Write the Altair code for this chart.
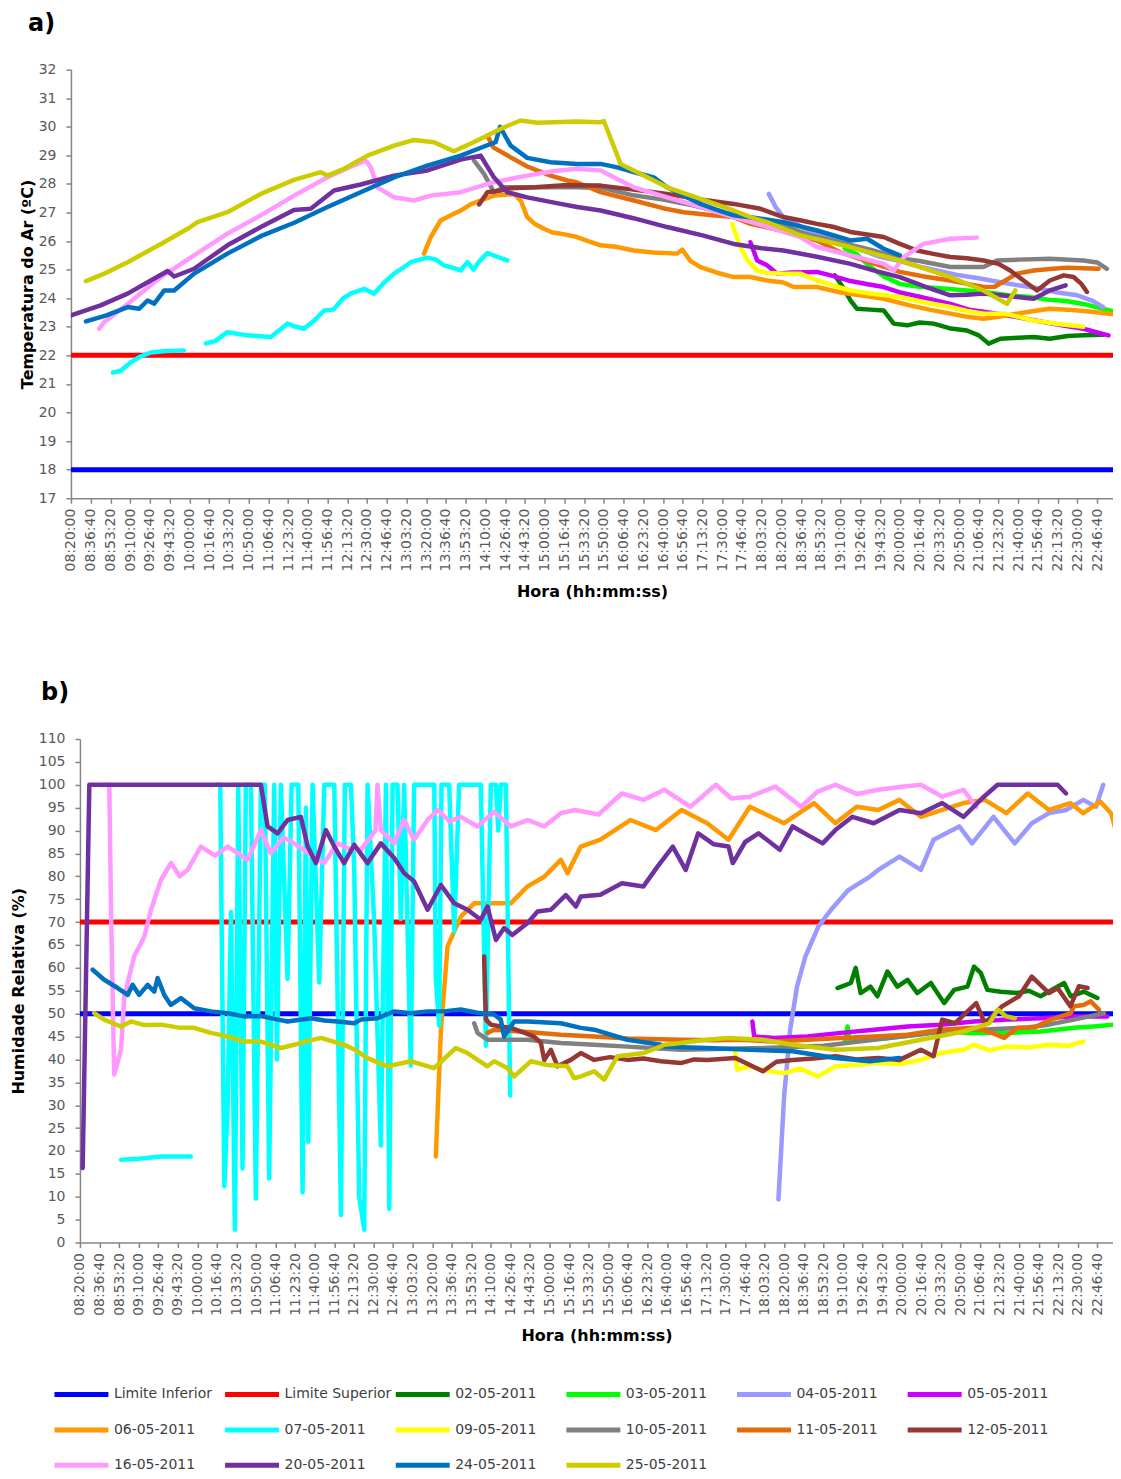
import altair as alt
import pandas as pd

# ---------------------------------------------------------------- x axis
# time is stored in kiloseconds after 08:20:00 (1 unit = 1000 s = 16 min 40 s)
START_SEC = 8 * 3600 + 20 * 60
STEP_SEC = 1000
N_TICKS = 53                 # 08:20:00 ... 22:46:40
X_END_KS = 52.8
TICK_SECONDS = [START_SEC + k * STEP_SEC for k in range(N_TICKS)]

NAMES = ["Limite Inferior", "Limite Superior", "02-05-2011", "03-05-2011",
         "04-05-2011", "05-05-2011", "06-05-2011", "07-05-2011", "09-05-2011",
         "10-05-2011", "11-05-2011", "12-05-2011", "16-05-2011", "20-05-2011",
         "24-05-2011", "25-05-2011"]
COLORS = ["#0000FF", "#FF0000", "#008000", "#00FF00", "#9999FF", "#CC00FF",
          "#FF9900", "#00FFFF", "#FFFF00", "#808080", "#E46C0A", "#953735",
          "#FF99FF", "#7030A0", "#0070C0", "#CCCC00"]

TEMP_LIMITS = [18, 22]
RH_LIMITS = [50, 70]
TEMP_TICKS = list(range(17, 33))
RH_TICKS = list(range(0, 111, 5))

# ---------------------------------------------------------------- a) temperature (ks, degC)
temp_0205 = [(38.7, 24.8), (39.1, 24.4), (39.5, 23.92), (39.83, 23.63), (40.5, 23.6), (41.18, 23.57),
             (41.69, 23.11), (42.37, 23.05), (43.0, 23.15), (43.71, 23.11), (44.5, 22.95), (45.4, 22.87),
             (46.0, 22.7), (46.5, 22.41), (47.09, 22.58), (48.0, 22.62), (48.78, 22.64), (49.6, 22.58),
             (50.5, 22.68), (51.3, 22.7), (52.32, 22.72)]
temp_0305 = [(39.2, 25.75), (39.8, 25.55), (40.5, 25.1), (41.2, 24.75), (42.0, 24.5), (43.0, 24.4),
             (44.0, 24.35), (45.4, 24.27), (46.5, 24.2), (47.5, 24.1), (48.5, 24.05), (49.5, 23.95),
             (50.4, 23.9), (51.3, 23.8), (52.2, 23.65), (53.0, 23.51)]
temp_0405 = [(35.36, 27.65), (35.7, 27.2), (36.1, 26.84), (37.0, 26.5), (38.0, 26.2), (39.0, 25.95),
             (40.0, 25.7), (41.0, 25.45), (42.0, 25.3), (43.0, 25.1), (44.0, 24.95), (45.0, 24.8),
             (46.0, 24.7), (47.1, 24.56), (48.0, 24.45), (49.0, 24.35), (50.0, 24.2), (51.0, 24.1),
             (51.8, 23.9), (52.3, 23.69)]
temp_0505 = [(34.43, 25.96), (34.77, 25.32), (35.27, 25.15), (35.78, 24.86), (36.5, 24.9), (37.8, 24.92),
             (38.5, 24.8), (39.5, 24.6), (40.3, 24.5), (41.18, 24.39), (42.0, 24.2), (43.0, 24.05),
             (44.56, 23.8), (45.5, 23.6), (46.5, 23.5), (47.93, 23.34), (49.0, 23.2), (50.2, 23.05),
             (51.3, 22.93), (52.0, 22.8), (52.57, 22.7)]
temp_0605 = [(17.89, 25.56), (18.23, 26.14), (18.73, 26.72), (19.25, 26.9), (19.75, 27.07), (20.3, 27.3),
             (20.76, 27.42), (21.43, 27.59), (22.0, 27.62), (22.45, 27.65), (22.8, 27.4), (23.12, 26.84),
             (23.5, 26.6), (23.97, 26.43), (24.4, 26.3), (24.81, 26.26), (25.65, 26.14), (26.2, 26.0),
             (26.84, 25.85), (27.6, 25.8), (28.52, 25.67), (29.5, 25.6), (30.72, 25.56), (30.97, 25.7),
             (31.4, 25.3), (31.9, 25.09), (32.7, 24.9), (33.58, 24.74), (34.43, 24.74), (35.27, 24.62),
             (36.1, 24.55), (36.62, 24.39), (37.8, 24.39), (39.0, 24.2), (40.0, 24.1), (41.18, 23.98),
             (42.5, 23.75), (43.5, 23.6), (44.56, 23.46), (45.4, 23.35), (46.24, 23.28), (47.0, 23.35),
             (47.93, 23.46), (48.8, 23.55), (49.6, 23.63), (50.5, 23.6), (51.3, 23.55), (52.3, 23.48),
             (53.2, 23.4)]
temp_0705_a = [(2.13, 21.4), (2.5, 21.45), (3.04, 21.76), (3.5, 21.95), (4.05, 22.1), (4.8, 22.15),
               (5.72, 22.17)]
temp_0705_b = [(6.84, 22.42), (7.3, 22.5), (7.93, 22.81), (8.94, 22.7), (10.13, 22.64), (10.97, 23.11),
               (11.4, 23.0), (11.81, 22.93), (12.3, 23.2), (12.83, 23.57), (13.3, 23.6), (13.8, 24.0),
               (14.18, 24.16), (14.85, 24.33), (15.36, 24.16), (15.8, 24.5), (16.37, 24.86), (16.8, 25.05),
               (17.22, 25.26), (18.06, 25.42), (18.5, 25.35), (18.9, 25.15), (19.4, 25.05), (19.75, 24.97),
               (20.09, 25.26), (20.4, 25.0), (20.7, 25.3), (21.1, 25.58), (21.6, 25.45), (22.11, 25.32)]
temp_0905 = [(33.5, 26.6), (33.92, 25.79), (34.3, 25.3), (34.77, 24.97), (35.3, 24.88), (36.1, 24.86),
             (36.96, 24.86), (37.8, 24.62), (38.6, 24.45), (39.5, 24.27), (40.7, 24.15), (42.0, 24.04),
             (43.3, 23.85), (44.56, 23.69), (45.4, 23.55), (46.24, 23.46), (47.3, 23.46), (48.0, 23.35),
             (48.78, 23.22), (50.0, 23.1), (51.3, 23.0)]
temp_1005 = [(20.42, 28.82), (20.93, 28.35), (21.43, 27.71), (21.94, 27.88), (23.0, 27.88), (24.5, 27.88),
             (25.65, 27.88), (27.0, 27.85), (28.5, 27.6), (30.0, 27.45), (31.5, 27.25), (33.0, 27.0),
             (34.5, 26.8), (36.0, 26.55), (37.5, 26.2), (39.0, 25.95), (40.5, 25.7), (42.0, 25.4),
             (43.0, 25.3), (44.56, 25.09), (46.24, 25.09), (46.92, 25.32), (48.0, 25.35), (49.6, 25.38),
             (51.3, 25.32), (52.0, 25.25), (52.49, 25.03)]
temp_1105 = [(21.1, 29.69), (21.4, 29.28), (22.28, 28.93), (23.12, 28.61), (24.3, 28.29), (25.15, 28.12),
             (25.65, 28.05), (26.84, 27.71), (28.52, 27.42), (30.0, 27.15), (31.05, 27.01), (32.5, 26.9),
             (33.58, 26.84), (34.43, 26.6), (35.5, 26.45), (36.96, 26.2), (37.8, 26.02), (39.0, 25.6),
             (40.5, 25.25), (42.0, 24.92), (43.3, 24.75), (44.56, 24.62), (45.4, 24.5), (46.24, 24.39),
             (46.8, 24.4), (47.93, 24.86), (48.78, 24.97), (49.6, 25.02), (50.46, 25.07), (51.3, 25.05),
             (52.07, 25.03)]
temp_1205 = [(20.68, 27.28), (21.1, 27.71), (21.77, 27.77), (22.28, 27.85), (23.5, 27.88), (25.0, 27.95),
             (26.84, 27.94), (28.5, 27.8), (30.21, 27.65), (32.0, 27.45), (33.58, 27.3), (34.94, 27.13),
             (36.1, 26.84), (37.0, 26.72), (37.8, 26.6), (38.6, 26.5), (39.5, 26.32), (41.18, 26.14),
             (42.0, 25.9), (42.87, 25.67), (43.7, 25.55), (44.56, 25.44), (45.4, 25.4), (46.24, 25.32),
             (47.0, 25.2), (47.59, 24.97), (48.3, 24.6), (48.95, 24.27), (49.6, 24.62), (50.3, 24.8),
             (50.8, 24.74), (51.2, 24.5), (51.48, 24.22)]
temp_1605 = [(1.43, 22.93), (1.69, 23.16), (2.87, 23.8), (4.56, 24.74), (6.24, 25.5), (7.93, 26.26),
             (9.62, 26.9), (11.31, 27.59), (13.0, 28.23), (14.0, 28.55), (14.94, 28.82), (15.19, 28.58),
             (15.53, 27.88), (16.37, 27.53), (17.38, 27.42), (18.23, 27.59), (19.75, 27.71), (21.43, 28.06),
             (23.12, 28.29), (24.5, 28.45), (25.65, 28.53), (26.84, 28.47), (27.6, 28.2), (28.52, 27.88),
             (30.21, 27.53), (31.9, 27.2), (33.58, 26.84), (35.3, 26.5), (36.96, 26.14), (37.8, 25.79),
             (39.5, 25.5), (41.18, 25.2), (41.7, 24.97), (42.19, 25.44), (43.2, 25.9), (44.56, 26.08),
             (45.9, 26.12)]
temp_2005 = [(0.0, 23.4), (1.5, 23.75), (2.87, 24.16), (4.0, 24.6), (4.9, 24.95), (5.23, 24.76),
             (6.24, 25.03), (7.1, 25.45), (7.93, 25.85), (9.62, 26.49), (11.3, 27.09), (12.15, 27.13),
             (13.33, 27.77), (14.68, 27.98), (16.37, 28.29), (18.06, 28.47), (19.75, 28.85), (20.76, 28.99),
             (21.43, 28.23), (22.11, 27.71), (23.12, 27.53), (24.81, 27.3), (25.65, 27.19), (26.84, 27.07),
             (28.5, 26.8), (30.21, 26.49), (32.0, 26.2), (33.58, 25.9), (35.0, 25.75), (36.1, 25.67),
             (37.8, 25.45), (39.5, 25.2), (40.8, 24.95), (42.0, 24.74), (43.3, 24.4), (44.56, 24.1),
             (45.4, 24.12), (46.24, 24.16), (47.1, 24.1), (47.93, 24.04), (48.78, 23.98), (49.6, 24.27),
             (50.4, 24.45)]
temp_2405 = [(0.76, 23.19), (1.8, 23.4), (2.87, 23.69), (3.46, 23.63), (3.88, 23.92), (4.22, 23.81),
             (4.73, 24.27), (5.23, 24.27), (6.24, 24.86), (7.93, 25.56), (9.62, 26.17), (11.31, 26.64),
             (13.0, 27.19), (14.68, 27.71), (16.37, 28.23), (18.06, 28.64), (19.75, 28.99), (20.93, 29.31),
             (21.52, 29.46), (21.74, 30.0), (22.28, 29.34), (23.12, 28.91), (24.3, 28.76), (25.65, 28.7),
             (26.84, 28.7), (27.68, 28.58), (28.6, 28.4), (29.53, 28.23), (30.21, 27.88), (31.0, 27.6),
             (31.9, 27.3), (32.7, 27.1), (33.58, 26.9), (34.8, 26.8), (36.1, 26.66), (37.8, 26.37),
             (39.5, 26.02), (40.34, 26.08), (41.18, 25.73), (42.0, 25.5)]
temp_2505 = [(0.76, 24.6), (1.69, 24.86), (2.87, 25.26), (4.56, 25.9), (5.91, 26.43), (6.41, 26.66),
             (7.93, 27.01), (9.62, 27.65), (11.3, 28.14), (12.66, 28.41), (13.0, 28.29), (13.84, 28.53),
             (15.02, 28.99), (16.37, 29.34), (17.38, 29.54), (18.4, 29.46), (19.4, 29.14), (20.4, 29.46),
             (21.94, 29.98), (22.78, 30.22), (23.63, 30.14), (25.65, 30.18), (26.84, 30.16), (27.0, 30.2),
             (27.85, 28.7), (28.52, 28.47), (30.21, 27.88), (31.9, 27.48), (33.58, 27.07), (34.43, 26.84),
             (35.27, 26.66), (36.96, 26.2), (38.2, 26.0), (39.5, 25.79), (42.0, 25.32), (44.56, 24.74),
             (46.24, 24.27), (47.43, 23.8), (47.85, 24.27)]

# ---------------------------------------------------------------- b) relative humidity (ks, %)
rh_0205 = [(38.72, 55.6), (39.4, 56.7), (39.65, 60.0), (39.9, 54.5), (40.4, 55.9), (40.76, 53.8),
           (41.27, 59.2), (41.78, 55.9), (42.3, 57.4), (42.8, 54.5), (43.49, 56.7), (44.17, 52.3),
           (44.68, 55.2), (45.36, 55.9), (45.7, 60.3), (46.04, 58.9), (46.38, 55.2), (47.06, 54.8),
           (47.91, 54.5), (48.5, 55.0), (49.1, 53.8), (50.3, 56.7), (50.64, 53.8), (51.32, 54.8),
           (52.0, 53.4)]
rh_0305 = [(39.1, 44.0), (39.23, 47.2), (39.35, 44.0), (41.0, 44.5), (43.0, 45.5), (43.66, 46.1),
           (45.7, 45.8), (47.4, 45.8), (49.1, 46.1), (50.8, 46.9), (51.8, 47.2), (52.85, 47.6)]
rh_0405 = [(35.7, 9.4), (35.99, 31.9), (36.3, 46.5), (36.65, 55.9), (37.08, 62.5), (37.74, 69.0),
           (38.39, 72.7), (39.27, 77.0), (40.36, 79.9), (40.8, 81.4), (41.89, 84.3), (42.98, 81.4),
           (43.63, 88.0), (44.94, 90.9), (45.6, 87.2), (46.69, 93.0), (47.78, 87.2), (48.65, 91.6),
           (49.53, 93.8), (50.4, 94.5), (51.28, 96.7), (51.93, 95.2), (52.3, 100.0)]
rh_0505 = [(34.37, 48.3), (34.46, 45.0), (35.48, 44.7), (37.18, 45.0), (38.89, 45.8), (40.59, 46.5),
           (42.29, 47.2), (43.99, 47.6), (45.7, 48.3), (47.4, 48.7), (49.1, 49.0), (50.8, 49.4),
           (52.51, 49.4)]
rh_0605 = [(18.19, 18.8), (18.45, 46.5), (18.79, 64.7), (19.47, 71.2), (20.15, 74.1), (21.17, 74.1),
           (22.02, 74.1), (22.88, 77.8), (23.73, 79.9), (24.58, 83.6), (24.92, 80.7), (25.6, 86.5),
           (26.6, 88.0), (28.13, 92.3), (29.44, 90.1), (30.75, 94.5), (32.06, 91.6), (33.15, 88.0),
           (34.24, 95.2), (35.99, 91.6), (37.52, 96.0), (38.61, 91.6), (39.7, 95.2), (40.8, 94.5),
           (41.89, 96.7), (42.98, 93.0), (44.07, 94.5), (45.16, 96.0), (46.25, 96.7), (47.35, 93.8),
           (48.44, 98.1), (49.53, 94.5), (50.62, 96.0), (51.28, 93.8), (52.16, 96.3), (52.7, 93.8),
           (53.03, 88.7)]
rh_0705_a = [(2.1, 18.1), (3.0, 18.3), (4.14, 18.8), (5.67, 18.8)]
rh_0705_b = [(7.03, 100), (7.17, 100), (7.38, 12.3), (7.55, 30), (7.72, 72.2), (7.92, 2.8), (8.09, 100),
             (8.31, 16.2), (8.48, 100), (8.74, 100), (8.99, 9.6), (9.25, 100), (9.45, 100), (9.67, 14),
             (9.93, 100), (10.07, 40), (10.27, 100), (10.61, 57.6), (10.82, 100), (11.16, 100),
             (11.38, 11.0), (11.55, 95), (11.67, 22), (11.89, 100), (12.23, 56.8), (12.49, 100),
             (12.74, 100), (13.0, 100), (13.34, 6.0), (13.54, 100), (13.85, 100), (14.02, 81.6),
             (14.27, 10), (14.53, 2.8), (14.7, 100), (15.04, 70), (15.38, 21.2), (15.64, 100), (15.81, 7.4),
             (15.98, 100), (16.23, 100), (16.4, 70.7), (16.57, 100), (16.91, 38.7), (17.08, 100),
             (18.11, 100), (18.19, 57.6), (18.36, 47.4), (18.48, 100), (18.87, 100), (19.13, 68),
             (19.38, 100), (20.49, 100), (20.75, 43), (21.0, 100), (21.26, 100), (21.38, 90), (21.51, 100),
             (21.77, 100), (21.99, 32.1)]
rh_0905 = [(33.48, 42.1), (33.59, 37.8), (34.24, 38.5), (35.1, 37.5), (35.99, 37.0), (36.8, 38.0),
           (37.74, 36.3), (38.61, 38.5), (39.6, 38.8), (40.8, 39.2), (41.9, 39.0), (42.98, 39.9),
           (43.99, 41.4), (45.16, 42.1), (45.7, 43.2), (46.5, 42.0), (47.35, 42.8), (48.5, 42.6),
           (49.53, 43.2), (50.5, 43.0), (51.28, 43.9)]
rh_1005 = [(20.15, 47.9), (20.32, 45.8), (20.83, 44.3), (22.88, 44.3), (24.58, 43.6), (26.28, 43.2),
           (27.98, 42.8), (30.71, 42.1), (32.5, 42.3), (35.0, 42.5), (38.0, 43.0), (41.0, 44.5),
           (43.0, 45.5), (44.85, 46.5), (46.5, 46.6), (48.25, 46.9), (49.5, 47.6), (50.8, 48.7),
           (52.34, 50.1)]
rh_1105 = [(20.83, 45.8), (21.17, 46.5), (22.88, 46.0), (24.58, 45.4), (26.28, 45.0), (27.98, 44.6),
           (30.71, 44.3), (32.5, 44.2), (33.78, 44.3), (35.48, 43.9), (37.2, 44.3), (38.89, 44.7),
           (40.6, 45.0), (42.29, 45.4), (43.99, 46.5), (45.7, 46.9), (46.5, 46.0), (47.23, 44.7),
           (47.91, 46.9), (48.8, 47.0), (49.62, 48.7), (50.64, 50.1), (50.8, 51.6), (51.3, 51.9),
           (51.66, 52.7), (52.08, 50.9)]
rh_1205 = [(20.66, 62.5), (20.75, 48.7), (21.0, 47.6), (21.51, 47.2), (22.02, 46.9), (22.6, 46.0),
           (23.21, 45.0), (23.56, 43.6), (23.73, 39.9), (24.07, 42.1), (24.41, 38.5), (25.09, 39.9),
           (25.6, 41.4), (26.28, 39.9), (27.1, 40.5), (27.98, 39.9), (28.8, 40.2), (29.69, 39.6),
           (30.71, 39.2), (31.4, 40.0), (32.06, 39.9), (33.5, 40.3), (34.9, 37.4), (35.6, 39.5),
           (36.43, 39.9), (37.5, 40.2), (38.61, 40.7), (39.7, 40.0), (40.8, 40.3), (41.89, 39.9),
           (42.98, 42.1), (43.63, 40.7), (44.07, 48.7), (44.72, 47.9), (45.81, 52.3), (46.25, 47.9),
           (47.13, 51.6), (48.0, 53.8), (48.65, 58.1), (49.53, 54.5), (49.97, 55.6), (50.62, 51.6),
           (51.06, 56.0), (51.5, 55.6)]
rh_1605 = [(1.5, 100), (1.6, 70), (1.75, 36.7), (2.1, 42.1), (2.27, 53.8), (2.77, 62.5), (3.29, 66.8),
           (3.63, 72.7), (4.14, 79.2), (4.65, 82.9), (5.1, 80.0), (5.5, 81.4), (6.18, 86.5), (6.9, 84.5),
           (7.55, 86.5), (8.57, 83.6), (9.25, 90.1), (9.76, 85.0), (10.4, 88.5), (10.95, 87.2),
           (11.7, 85.0), (12.48, 82.9), (13.17, 87.2), (13.8, 86.0), (14.36, 85.8), (15.1, 90.0),
           (15.21, 100), (15.38, 90.1), (16.06, 87.2), (16.57, 92.3), (17.08, 88.0), (17.77, 92.3),
           (18.28, 94.5), (18.9, 92.0), (19.47, 93.0), (20.32, 90.9), (21.17, 94.1), (22.02, 90.9),
           (22.88, 92.3), (23.73, 90.9), (24.58, 93.8), (25.3, 94.5), (26.5, 93.5), (27.7, 98.1),
           (28.8, 96.7), (29.88, 98.9), (31.2, 95.2), (32.5, 100), (33.3, 97.0), (34.24, 97.4),
           (35.55, 99.6), (36.86, 95.2), (37.7, 98.5), (38.61, 100), (39.7, 98.0), (40.8, 98.9),
           (41.9, 99.5), (42.98, 100), (44.07, 97.4), (45.16, 98.9), (45.81, 95.2)]
rh_2005 = [(0.14, 16.3), (0.48, 100), (9.25, 100), (9.59, 90.9), (10.1, 89.4), (10.61, 92.3),
           (11.29, 93.0), (11.64, 86.5), (12.06, 82.9), (12.57, 90.1), (13.0, 86.5), (13.5, 82.9),
           (14.02, 86.9), (14.7, 82.9), (15.38, 87.2), (16.06, 84.0), (16.57, 80.7), (17.08, 78.9),
           (17.77, 72.7), (18.45, 78.1), (19.13, 74.1), (19.81, 72.7), (20.49, 70.5), (20.83, 73.4),
           (21.26, 66.1), (21.68, 68.7), (22.1, 67.2), (22.88, 69.8), (23.39, 72.3), (24.07, 72.7),
           (24.83, 75.9), (25.35, 73.4), (25.6, 75.6), (26.6, 76.0), (27.7, 78.5), (28.8, 77.8),
           (29.5, 82.0), (30.3, 86.5), (30.96, 81.4), (31.6, 89.4), (32.4, 87.0), (33.15, 86.5),
           (33.37, 82.9), (34.0, 87.5), (34.68, 89.4), (35.77, 85.8), (36.43, 90.9), (37.2, 89.0),
           (37.96, 87.2), (38.61, 90.1), (39.48, 93.0), (40.57, 91.6), (41.89, 94.5), (42.98, 93.8),
           (44.07, 96.0), (45.16, 93.0), (46.2, 97.4), (46.9, 100), (49.97, 100), (50.4, 98.1)]
rh_2405 = [(0.65, 59.6), (1.24, 57.4), (1.93, 55.6), (2.44, 54.1), (2.69, 56.3), (3.03, 54.1),
           (3.46, 56.3), (3.8, 54.8), (3.97, 57.8), (4.31, 54.1), (4.65, 51.9), (5.16, 53.4),
           (5.84, 51.2), (6.69, 50.5), (7.55, 50.1), (8.4, 49.4), (9.25, 49.5), (10.0, 48.8),
           (10.61, 48.3), (11.8, 49.0), (12.5, 48.5), (13.17, 48.3), (14.02, 47.9), (14.36, 48.7),
           (15.21, 49.0), (16.06, 50.5), (16.91, 50.1), (17.77, 50.5), (18.6, 50.5), (19.47, 50.9),
           (20.3, 50.2), (21.17, 49.8), (21.51, 48.7), (21.68, 45.0), (22.19, 48.3), (22.88, 48.3),
           (24.58, 47.9), (25.6, 46.9), (26.28, 46.5), (27.98, 44.3), (29.69, 43.2), (29.88, 42.8),
           (32.06, 42.5), (34.24, 42.1), (36.43, 41.8), (38.61, 40.3), (40.36, 39.6), (41.89, 40.3)]
rh_2505 = [(0.73, 50.1), (1.24, 48.7), (2.1, 47.2), (2.61, 48.3), (3.3, 47.5), (4.14, 47.6), (5.0, 47.0),
           (5.84, 46.9), (6.69, 45.8), (7.55, 45.0), (8.4, 43.9), (9.25, 43.9), (10.27, 42.5),
           (10.95, 43.2), (11.6, 44.0), (12.32, 44.7), (13.5, 43.2), (14.1, 42.0), (14.7, 40.3),
           (15.72, 38.5), (16.91, 39.6), (18.1, 38.1), (19.21, 42.5), (19.81, 41.4), (20.83, 38.5),
           (21.17, 39.6), (21.86, 38.1), (22.19, 36.3), (23.05, 39.6), (23.9, 38.8), (24.92, 38.5),
           (25.26, 35.9), (25.6, 36.3), (26.28, 37.4), (26.79, 35.6), (27.48, 40.7), (28.84, 41.4),
           (29.88, 43.2), (30.71, 43.6), (32.0, 44.3), (33.15, 44.7), (34.9, 44.3), (36.43, 43.2),
           (38.61, 42.1), (40.8, 42.5), (42.98, 44.3), (45.16, 46.1), (46.48, 47.9), (46.91, 50.9),
           (47.35, 49.4), (47.78, 49.0)]

TEMP_SERIES = [("02-05-2011", [temp_0205]), ("03-05-2011", [temp_0305]), ("04-05-2011", [temp_0405]),
               ("05-05-2011", [temp_0505]), ("06-05-2011", [temp_0605]),
               ("07-05-2011", [temp_0705_a, temp_0705_b]), ("09-05-2011", [temp_0905]),
               ("10-05-2011", [temp_1005]), ("11-05-2011", [temp_1105]), ("12-05-2011", [temp_1205]),
               ("16-05-2011", [temp_1605]), ("20-05-2011", [temp_2005]), ("24-05-2011", [temp_2405]),
               ("25-05-2011", [temp_2505])]
RH_SERIES = [("02-05-2011", [rh_0205]), ("03-05-2011", [rh_0305]), ("04-05-2011", [rh_0405]),
             ("05-05-2011", [rh_0505]), ("06-05-2011", [rh_0605]),
             ("07-05-2011", [rh_0705_a, rh_0705_b]), ("09-05-2011", [rh_0905]),
             ("10-05-2011", [rh_1005]), ("11-05-2011", [rh_1105]), ("12-05-2011", [rh_1205]),
             ("16-05-2011", [rh_1605]), ("20-05-2011", [rh_2005]), ("24-05-2011", [rh_2405]),
             ("25-05-2011", [rh_2505])]


def limit_frame(limits):
    rows = []
    for name, lim in zip(NAMES[:2], limits):
        for t in (0.0, X_END_KS):
            rows.append({"series": name, "seg": name, "sec": START_SEC + t * STEP_SEC, "val": lim})
    return pd.DataFrame(rows)


def series_frame(series):
    rows = []
    for name, segs in series:
        for k, seg in enumerate(segs):
            for t, v in seg:
                rows.append({"series": name, "seg": f"{name}#{k}",
                             "sec": START_SEC + t * STEP_SEC, "val": v})
    return pd.DataFrame(rows)


LEGEND = alt.Legend(orient="none", legendX=-19, legendY=1316, columns=6, direction="horizontal",
                    symbolType="stroke", symbolSize=2916, symbolStrokeWidth=5, clipHeight=20,
                    labelFont="DejaVu Sans", labelFontSize=14, labelColor="#404040",
                    columnPadding=1.8, rowPadding=15.5, gridAlign="all", labelOffset=3, padding=0)


def panel(series, limits, ytitle, ydomain, yticks, width, height, label, dx, inset):
    x = alt.X("sec:Q",
              scale=alt.Scale(domain=[START_SEC, START_SEC + X_END_KS * STEP_SEC], nice=False, zero=False,
                              range=[inset, width]),
              axis=alt.Axis(values=TICK_SECONDS,
                            labelExpr="utcFormat(datum.value * 1000, '%H:%M:%S')",
                            labelAngle=270, labelOverlap=False, labelFlush=False, labelPadding=5,
                            title="Hora (hh:mm:ss)", titlePadding=12))
    y = alt.Y("val:Q", scale=alt.Scale(domain=ydomain, nice=False, zero=False),
              axis=alt.Axis(values=yticks, title=ytitle, labelPadding=10, titlePadding=3 + inset,
                            offset=-inset))
    color = alt.Color("series:N", scale=alt.Scale(domain=NAMES, range=COLORS), legend=LEGEND, title=None)
    lims = alt.Chart(limit_frame(limits)).mark_line(strokeWidth=5, clip=True).encode(
        x=x, y=y, color=color, detail="seg:N")
    lines = alt.Chart(series_frame(series)).mark_line(
        strokeWidth=4.5, clip=True, strokeCap="round", strokeJoin="round").encode(
        x=x, y=y, color=color, detail="seg:N")
    return alt.layer(lims, lines).properties(
        width=width, height=height,
        title=alt.TitleParams(label, anchor="start", frame="group", dx=dx, offset=27,
                              fontSize=24, font="DejaVu Sans", fontWeight="bold", color="black"))


chart_a = panel(TEMP_SERIES, TEMP_LIMITS, "Temperatura do Ar (ºC)", [17, 32], TEMP_TICKS, 1043, 429, "a)", -43, 0)
chart_b = panel(RH_SERIES, RH_LIMITS, "Humidade Relativa (%)", [0, 110], RH_TICKS, 1043, 504, "b)", -30, 9)

chart = alt.concat(chart_a, chart_b, columns=1, spacing=82, align="none").properties(
    padding={"left": 2, "top": 3, "right": 0, "bottom": 0}
).configure_view(stroke=None).configure_axis(
    labelFont="DejaVu Sans", labelFontSize=14, labelColor="#595959",
    titleFont="DejaVu Sans", titleFontSize=16, titleFontWeight="bold", titleColor="black",
    domainColor="#868686", tickColor="#868686", domainWidth=1.5, tickWidth=1.5, tickSize=5, grid=False
)

chart.save("out.html", embed_options={"renderer": "svg", "actions": False})
